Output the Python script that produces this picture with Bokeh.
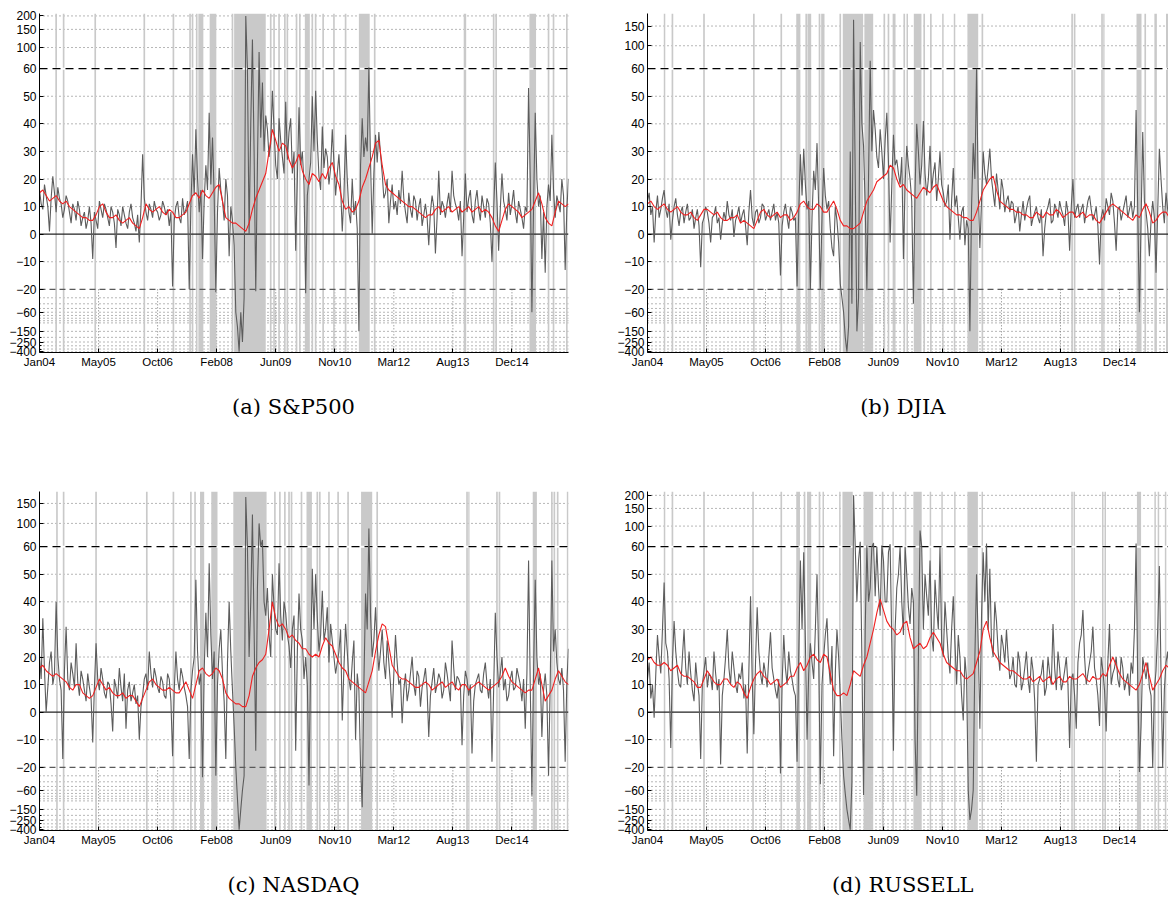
import numpy as np
from bokeh.plotting import figure
from bokeh.layouts import gridplot
from bokeh.models import FixedTicker, Span
from bokeh.embed import file_html
from bokeh.resources import INLINE

# ---------------- data (weekly index from Jan 2004) ----------------
X_TICK_WEEKS = [0, 71, 142, 213, 284, 355, 426, 497, 568]
X_TICK_LABELS = ["Jan04", "May05", "Oct06", "Feb08", "Jun09", "Nov10", "Mar12", "Aug13", "Dec14"]
GREY_STEP = 4   # grey readings at weeks 0,4,8,... ; *_MID readings at weeks 2,6,10,...
RED_STEP = 8    # red readings at weeks 0,8,16,... ; *_MID readings at weeks 4,12,20,...

Y_LABELS_TALL = [-400, -250, -150, -60, -20, -10, 0, 10, 20, 30, 40, 50, 60, 100, 150, 200]
Y_LABELS_SHORT = [-400, -250, -150, -60, -20, -10, 0, 10, 20, 30, 40, 50, 60, 100, 150]
Y_MINOR = [-200, -300, -350]
GRID_UPPER = [-10, 10, 20, 30, 40, 50, 100, 150, 200]
GRID_LOWER = [-30, -40, -50, -60, -70, -80, -90, -100, -150, -200, -250, -300, -350, -400]

# ---- (a) S&P500 ----
SP_GREY = [16, 9, 14, 1, 21, 8, 13, 6, 14, 8,
           11, 5, 9, 6, 2, 10, -9, 5, 12, 6,
           9, 3, 8, -5, 7, 10, 4, 8, 6, 1,
           -3, 29, 8, 11, 6, 9, 5, 12, 7, 3,
           -19, 10, 6, 13, 9, -20, 29, 38, 8, -9,
           25, 44, 35, -23, 24, 12, 20, -8, 5, -60,
           -400, -250, 200, 0, 120, -22, 90, 55, 43, 28,
           52, 25, 42, 28, 48, 37, 22, -6, 46, 30,
           -24, 20, 50, 52, 21, 39, 31, 18, 38, 14,
           29, 1, 36, 8, 20, 12, -150, 42, 35, 62,
           0, 36, 37, 22, 15, 4, 18, 12, 16, 23,
           8, 15, 6, 12, 10, 3, 11, -4, 14, -7,
           23, 12, 6, 15, 23, 11, 5, -8, 22, 13,
           7, 12, 9, 14, 6, 11, -10, 26, -6, 22,
           9, 15, 11, 8, 12, 6, 10, 53, -60, 44,
           10, -9, -14, 18, 36, 6, 11, 20, -13, 20]
SP_GREY_MID = [11, 18, 10, 13, 15, 17, 11, 9, 12, 4,
               9, 12, 3, 8, 5, 4, 8, 2, 9, 11,
               6, 10, 4, 9, 3, 7, 2, 11, 4, 7,
               10, 13, 5, 9, 12, 8, 7, 10, 9, 8,
               5, 12, 4, 7, 12, 10, 14, 20, 16, 12,
               16, 18, 14, 8, 16, 5, 14, 10, -4, -120,
               -60, -30, 60, 40, 30, 25, 35, 30, 38, 33,
               38, 20, 34, 22, 27, 42, 30, 20, 25, 18,
               14, 26, 30, 34, 16, 24, 28, 24, 26, 22,
               17, 14, 20, 4, 7, 2, 25, 28, 30, 26,
               22, 26, 29, 13, 20, 12, 9, 7, 11, 13,
               4, 9, 14, 5, 13, 7, 6, 8, 10, 6,
               7, 10, 11, 8, 14, 9, 12, 6, 8, 16,
               4, 16, 5, 10, 13, 4, 8, 12, 9, 12,
               5, 7, 16, 4, 9, 2, 8, 20, 10, 20,
               14, 8, 10, 12, 16, 14, 8, 14, 9]
SP_RED = [15, 14, 13, 12, 12, 9, 7, 6, 5, 10,
          8, 6, 5, 5, 4, 2, 11, 8, 10, 7,
          8, 6, 8, 14, 13, 14, 15, 18, 6, 4,
          3, 1, 9, 16, 22, 38, 30, 32, 24, 29,
          20, 22, 19, 20, 26, 18, 9, 8, 12, 20,
          28, 34, 18, 15, 13, 11, 10, 8, 6, 7,
          10, 9, 8, 10, 9, 8, 10, 9, 6, 1,
          9, 10, 8, 7, 9, 15, 6, 3, 12, 10]
SP_RED_MID = [16, 12, 14, 11, 10, 8, 6, 5, 7, 11,
              6, 7, 4, 6, 3, 6, 9, 9, 8, 9,
              6, 7, 11, 15, 16, 13, 17, 12, 5, 4,
              2, 4, 13, 19, 30, 34, 33, 27, 26, 23,
              18, 21, 22, 24, 21, 12, 10, 9, 17, 24,
              33, 25, 16, 14, 12, 10, 9, 7, 7, 9,
              8, 10, 9, 8, 10, 9, 8, 8, 3, 5,
              11, 9, 6, 8, 12, 11, 4, 8, 11, 11]
SP_BANDS = [(19, 21), (28, 30), (66, 68), (125, 127), (160, 162), (180, 182), (183, 185),
            (188, 190), (191, 197), (204.6, 212.6), (231, 233), (234, 272), (277, 279),
            (281, 283), (287, 289), (294, 296), (297, 299), (308, 310), (312, 314),
            (319, 325), (327, 329), (331, 333), (340, 342), (353, 355), (367, 369),
            (384, 397), (402, 404), (510, 513), (545, 547), (548, 550), (589, 597),
            (611, 613), (617, 619), (633, 635)]

# ---- (b) DJIA ----
DJ_GREY = [12, 7, -3, 14, 9, 16, 6, -2, 10, 7,
           8, 4, 11, 6, 2, 9, -12, 6, 8, -3,
           7, 4, -2, 8, 12, 5, -1, 7, 4, 9,
           -4, 16, 3, 9, 6, 10, 7, 5, 11, 8,
           -15, 8, 6, 10, 5, -19, 29, 31, 9, -20,
           23, 33, -20, 24, 9, 2, -8, 5, -18, -60,
           -400, 30, 170, -150, 108, 32, -21, 72, 45, 28,
           38, 20, 44, -3, 36, 27, 18, -9, 32, 20,
           -40, 40, 18, 41, 14, 32, 22, 12, 30, 15,
           12, -2, 24, 14, -2, 10, 5, -150, 33, 60,
           -5, 30, 18, 31, 15, 22, 9, 16, 12, 8,
           11, 7, 1, 12, 9, 14, 6, 10, 4, -8,
           8, 13, 5, 9, 12, 7, 12, -6, 20, 9,
           6, 11, 8, 14, 5, 10, -11, 9, 13, 7,
           12, -6, 10, 8, 14, 9, 6, 45, -60, 37,
           8, -8, 12, -14, 31, 10, 15, 6, 12, 9]
DJ_GREY_MID = [15, 10, 8, 6, 13, 9, 11, 5, 13, 3,
               10, 8, 5, 9, 6, 3, 4, 10, 4, 6,
               10, 6, 4, 5, 7, 9, 5, 10, 7, 3,
               8, 6, 8, 4, 11, 5, 9, 8, 5, 4,
               3, 11, 2, 8, 6, 8, 14, 18, 12, 6,
               16, 10, 6, 14, 12, -5, 10, -3, -30, -200,
               -120, -40, 20, -30, 40, 10, 20, 30, 38, 24,
               30, 34, 26, 18, 25, 22, 28, 18, 25, 12,
               16, 30, 25, 22, 20, 16, 26, 20, 18, 10,
               18, 12, 10, 6, 8, -4, 2, 10, 20, 16,
               12, 22, 24, 20, 10, 16, 20, 8, 14, 12,
               4, 10, 7, 5, 12, 3, 8, 6, 9, 2,
               10, 4, 11, 6, 9, 3, 8, 10, 6, 11,
               9, 4, 12, 9, 7, 3, 6, 5, 10, 15,
               4, 9, 5, 11, 6, 12, 10, 8, 5, 12,
               2, 5, 6, 8, 20, 4, 9, 10, 6]
DJ_RED = [11, 10, 10, 9, 9, 8, 7, 6, 7, 9,
          7, 6, 5, 6, 4, 4, 2, 8, 7, 7,
          6, 7, 6, 11, 10, 9, 10, 8, 12, 5,
          3, 2, 4, 12, 16, 20, 22, 24, 17, 16,
          14, 15, 16, 17, 15, 10, 8, 7, 6, 5,
          12, 18, 21, 12, 10, 9, 8, 7, 6, 7,
          8, 7, 8, 7, 8, 7, 6, 7, 4, 8,
          11, 9, 7, 5, 6, 11, 4, 7, 8, 7]
DJ_RED_MID = [12, 9, 11, 8, 10, 7, 8, 5, 9, 8,
              8, 5, 6, 7, 5, 3, 5, 9, 6, 8,
              7, 5, 8, 12, 9, 11, 8, 10, 9, 3,
              2, 3, 8, 14, 19, 21, 25, 20, 18, 15,
              13, 17, 15, 18, 12, 9, 7, 6, 5, 8,
              16, 20, 16, 11, 9, 8, 7, 6, 8, 6,
              7, 9, 6, 8, 6, 8, 7, 5, 6, 10,
              10, 8, 6, 7, 9, 8, 5, 8, 6, 8]
DJ_BANDS = [(19.6, 21.4), (29, 31), (67, 69), (127, 129), (160, 162), (179, 184), (190, 192),
            (192.5, 197), (206, 208), (209, 213), (231, 233), (235, 259.5), (261, 271.6),
            (284, 286), (289, 291), (295, 298.5), (308, 310), (311.7, 313.5), (320.5, 329.7),
            (332, 334), (340, 342), (354.6, 356.4), (368.6, 370.4), (385, 398), (402, 404),
            (510, 512), (513, 515), (546, 548), (548.5, 550), (588.5, 594.5), (598, 600),
            (610, 613), (624, 627)]

# ---- (c) NASDAQ ----
NQ_GREY = [20, 34, 0, 18, 10, 40, 12, -17, 31, 8,
           14, 25, 6, 12, 4, 9, -11, 25, 8, 12,
           5, 10, -7, 9, 16, 4, -6, 11, 7, 3,
           -10, 6, 14, 22, 9, 13, 7, 11, 5, 12,
           -16, 22, 8, 13, 6, -17, 15, 48, 10, -32,
           36, 54, 12, -30, 23, 14, -17, 40, 8, -20,
           -400, -60, 170, 20, 120, -14, 100, 70, 35, 28,
           50, 30, 54, 26, 36, 24, 30, -14, 43, 26,
           20, -48, 52, 50, 22, 44, 30, 18, 26, 14,
           22, -3, 32, 12, 18, -10, 8, -136, 43, 90,
           20, 38, 15, 30, 12, 18, -2, 28, 10, -4,
           14, 8, 20, 6, 13, 9, 16, -9, 11, 7,
           14, 5, 18, 9, 26, 8, 12, -12, 15, 6,
           -15, 10, 14, 7, 18, 5, -18, 36, 9, 20,
           12, 6, 15, 9, 13, 4, -6, 55, -78, 48,
           10, -9, 14, -30, 55, 30, 12, 16, -18, 23]
NQ_GREY_MID = [12, 15, 9, 22, 14, 20, 8, 15, 12, 18,
               9, 11, 15, 8, 14, 5, 9, 12, 16, 7,
               11, 3, 12, 5, 9, 14, 8, 4, 10, 6,
               2, 12, 8, 14, 16, 9, 13, 6, 14, 4,
               8, 12, 16, 9, 2, 8, 20, 22, 14, 15,
               20, 28, 22, 10, 30, 4, 18, 22, -5, -90,
               -150, -30, 60, 40, 30, 45, 60, 40, 45, 20,
               38, 28, 35, 40, 28, 16, 35, 22, 30, 12,
               10, 18, 30, 34, 28, 26, 38, 32, 20, 18,
               30, 16, 22, 8, 26, 14, -20, 10, 30, 35,
               26, 24, 22, 18, 26, 10, 14, 18, 12, 8,
               4, 14, 10, 15, 2, 12, 8, 6, 16, 10,
               12, 8, 14, 4, 16, 13, 10, 6, 12, 10,
               4, 12, 8, 14, 10, 12, 8, 20, 14, 8,
               4, 12, 8, 16, 10, 12, 14, 10, 15, 20,
               14, 8, 6, 10, 22, 18, 10, 8, 11]
NQ_RED = [16, 15, 13, 13, 11, 8, 10, 6, 6, 12,
          8, 7, 6, 5, 6, 2, 8, 12, 9, 8,
          8, 7, 11, 5, 15, 14, 14, 15, 7, 4,
          3, 2, 13, 18, 21, 40, 31, 30, 28, 25,
          23, 20, 20, 27, 24, 18, 15, 11, 9, 7,
          15, 28, 31, 17, 13, 12, 10, 9, 11, 8,
          10, 9, 11, 8, 10, 9, 11, 9, 9, 11,
          16, 11, 9, 7, 8, 16, 4, 8, 15, 11]
NQ_RED_MID = [17, 14, 14, 12, 9, 10, 7, 5, 9, 10,
              9, 6, 7, 6, 4, 5, 11, 10, 8, 9,
              7, 9, 8, 10, 16, 13, 16, 12, 5, 3,
              2, 6, 16, 19, 30, 34, 32, 27, 26, 23,
              21, 21, 24, 25, 21, 16, 12, 10, 8, 11,
              22, 32, 24, 15, 12, 11, 9, 10, 10, 9,
              11, 10, 9, 10, 8, 10, 10, 8, 10, 13,
              13, 10, 8, 8, 12, 10, 6, 12, 13, 10]
NQ_BANDS = [(20, 22), (28, 30), (67, 69), (128, 130), (160, 162), (181, 183), (186, 188),
            (193, 198), (206.5, 214), (233, 273), (282, 284), (288, 290), (294, 296),
            (299, 301), (302, 304), (314, 316), (321, 327.5), (333, 335), (336, 338),
            (347, 349), (358, 360), (370, 372), (386.6, 400), (405, 407), (513, 515),
            (515.5, 517), (549, 551), (552, 554), (593, 598), (615, 617), (618, 620),
            (622, 624), (634, 636)]

# ---- (d) RUSSELL ----
RU_GREY = [12, 5, -2, 28, 14, 47, 22, -13, 33, 15,
           9, 30, 10, 14, 4, 11, -17, 15, 9, 13,
           22, 8, -19, 12, 30, 10, 16, 7, 12, 5,
           -15, 42, -8, 38, 14, 18, 9, 29, 12, 5,
           -27, 28, 10, 15, 8, -18, 55, 58, -10, 25,
           12, 50, -45, 20, 34, 10, -16, 30, 6, -30,
           -150, -400, 200, 40, 68, -75, 62, 45, 66, 60,
           35, 55, 40, 64, -14, 45, 60, 28, 50, 32,
           40, -78, 90, 30, 42, 55, 22, 38, 60, 20,
           30, 14, 42, 10, 20, -3, 12, -250, -60, 50,
           -6, 58, 65, 52, 20, 33, 15, 24, 30, 12,
           20, 9, 18, 11, 22, 7, 15, -18, 12, 19,
           9, 14, 32, 8, 16, 11, 20, -13, 14, -6,
           25, 37, 10, 18, 31, 12, -5, 15, -7, 32,
           14, 20, 9, 16, 11, 6, 14, 65, -25, 20,
           12, 9, -20, 15, 53, -20, 18, 10, 14, 11]
RU_GREY_MID = [18, 10, 14, 20, 30, 25, 12, 18, 22, 10,
               20, 16, 22, 8, 18, 6, 10, 20, 14, 8,
               14, 12, 6, 20, 16, 22, 10, 14, 18, 10,
               15, 12, 18, 22, 10, 14, 20, 16, 8, 12,
               10, 16, 22, 12, 6, 20, 30, 26, 14, 18,
               30, 20, 10, 28, 18, 24, 14, 20, -10, -70,
               -250, -40, 60, 55, 20, 30, 40, 60, 42, 45,
               62, 40, 58, 25, 30, 50, 40, 60, 38, 45,
               -10, 20, 60, 50, 35, 28, 48, 30, 25, 40,
               20, 30, 25, 28, 6, 20, -60, -150, 20, 25,
               35, 40, 30, 25, 40, 22, 28, 18, 20, 14,
               10, 22, 8, 16, 12, 20, 4, 10, 14, 6,
               20, 10, 16, 22, 8, 15, 10, 12, 6, 18,
               28, 20, 14, 22, 16, 6, 20, 8, 18, 10,
               16, 12, 20, 8, 14, 18, 30, 10, -5, 16,
               18, 6, 8, 30, 14, 8, 22, 16, 9]
RU_RED = [19, 18, 17, 17, 16, 14, 13, 11, 9, 15,
          11, 10, 12, 9, 10, 5, 12, 15, 12, 11,
          9, 11, 13, 18, 17, 21, 18, 20, 8, 6,
          6, 15, 13, 20, 30, 41, 33, 30, 29, 33,
          23, 25, 24, 29, 25, 18, 16, 15, 12, 14,
          22, 33, 22, 18, 16, 15, 13, 12, 11, 13,
          12, 10, 13, 11, 12, 13, 12, 13, 12, 13,
          20, 14, 11, 9, 10, 18, 8, 12, 17, 14]
RU_RED_MID = [20, 17, 18, 15, 17, 13, 12, 9, 12, 13,
              10, 12, 10, 11, 7, 9, 14, 13, 10, 12,
              10, 13, 16, 15, 20, 19, 21, 14, 6, 7,
              10, 14, 17, 25, 36, 37, 31, 28, 32, 27,
              24, 23, 27, 27, 21, 17, 15, 13, 13, 18,
              30, 27, 20, 17, 15, 14, 12, 13, 12, 11,
              13, 12, 11, 13, 12, 14, 11, 12, 14, 17,
              17, 12, 10, 8, 14, 13, 10, 15, 16, 13]
RU_BANDS = [(19.6, 21.4), (29, 31), (67, 69), (126, 128), (160, 162), (179, 183.5), (188, 190),
            (192, 197), (206, 208), (210.6, 212.4), (230.6, 232.4), (234.6, 247), (260, 271.6),
            (282, 284), (294.7, 296.5), (309.6, 311.4), (320, 330), (339.6, 341.4),
            (353.6, 355.4), (369, 370.8), (385, 397.6), (402, 403.8), (510, 511.8),
            (512.7, 514.5), (547, 548.8), (550, 551.8), (589, 594), (610, 611.8),
            (614, 615.8), (622.6, 624.4)]

# ---------------- broken (piecewise) y scale ----------------
B_NEG = 7.56
Y_BOT = -42.9
Y_TOP = 80.0


def tr(v, A):
    v = np.asarray(v, dtype=float)
    out = v.copy()
    hi = v > 60
    lo = v < -20
    out[hi] = 60 + A * np.log((v[hi] + 20) / 80)
    out[lo] = -20 - B_NEG * np.log(-v[lo] / 20)
    return np.round(out, 6)


def merge(main, mid, step):
    xm = np.arange(len(main)) * step
    xh = np.arange(len(mid)) * step + step / 2
    x = np.concatenate([xm, xh])
    y = np.concatenate([np.asarray(main, float), np.asarray(mid, float)])
    order = np.argsort(x, kind="stable")
    return x[order], y[order]


def lab(v):
    return str(v).replace("-", "\u2212")


def make_panel(caption, grey, grey_mid, red, red_mid, bands, A, ylabs,
               width, height, left, right, top, bottom, xend):
    p = figure(width=width, height=height, x_range=(0, xend), y_range=(Y_BOT, Y_TOP),
               output_backend="svg", toolbar_location=None,
               min_border_left=left, min_border_right=right, min_border_top=top,
               min_border_bottom=bottom)
    p.outline_line_color = None
    p.grid.visible = False

    # dotted grid
    for v in GRID_UPPER + GRID_LOWER:
        y = float(tr([v], A)[0])
        if Y_BOT < y < Y_TOP:
            p.add_layout(Span(location=y, dimension="width", line_color="#6e6e6e",
                              line_width=1, line_dash="1 3", level="underlay"))
    y60 = float(tr([60], A)[0])
    ym20 = float(tr([-20], A)[0])
    xt = X_TICK_WEEKS[1:]
    p.segment(x0=xt, x1=xt, y0=[ym20] * len(xt), y1=[Y_BOT] * len(xt),
              line_color="#7a7a7a", line_width=1, line_dash="1 2")

    # regime bands
    p.quad(left=[b[0] for b in bands], right=[b[1] for b in bands],
           bottom=Y_BOT, top=Y_TOP, fill_color="#c9c9c9", line_color=None)

    # reference lines
    xe = [0, xend]
    p.line(xe, [y60, y60], line_color="white", line_width=2)
    p.line(xe, [y60, y60], line_color="black", line_width=1.2, line_dash="8 5")
    p.line(xe, [0, 0], line_color="#222222", line_width=1.2)
    p.line(xe, [ym20, ym20], line_color="#5a5a5a", line_width=1.2, line_dash="6 4")

    # series
    gx, gy = merge(grey, grey_mid, GREY_STEP)
    p.line(gx, tr(gy, A), line_color="#5c5c5c", line_width=1.1)
    rx, ry = merge(red, red_mid, RED_STEP)
    p.line(rx, tr(ry, A), line_color="#f02020", line_width=1.1)

    # axes
    yt = tr(ylabs, A)
    p.yaxis.ticker = FixedTicker(ticks=[float(t) for t in yt],
                                 minor_ticks=[float(t) for t in tr(Y_MINOR, A)])
    p.yaxis.major_label_overrides = {float(t): lab(v) for t, v in zip(yt, ylabs)}
    p.xaxis.ticker = FixedTicker(ticks=X_TICK_WEEKS)
    p.xaxis.major_label_overrides = {w: l for w, l in zip(X_TICK_WEEKS, X_TICK_LABELS)}
    for ax in (p.xaxis[0], p.yaxis[0]):
        ax.axis_line_color = "black"
        ax.axis_line_width = 1
        ax.major_tick_in = 4
        ax.major_tick_out = 0
        ax.minor_tick_in = 2
        ax.minor_tick_out = 0
        ax.major_tick_line_color = "black"
        ax.minor_tick_line_color = "black"
        ax.major_label_text_font = "Liberation Sans"
        ax.major_label_text_color = "black"
        ax.major_label_standoff = 3
    p.yaxis.major_label_text_font_size = "12px"
    p.xaxis.major_label_text_font_size = "11.5px"
    p.xaxis.axis_label = caption
    p.xaxis.axis_label_text_font = "DejaVu Serif"
    p.xaxis.axis_label_text_font_style = "normal"
    p.xaxis.axis_label_text_font_size = "21px"
    p.xaxis.axis_label_text_color = "black"
    p.xaxis.axis_label_standoff = 24
    return p


pa = make_panel("(a) S&P500\u2003", SP_GREY, SP_GREY_MID, SP_RED, SP_RED_MID, SP_BANDS,
                18.9, Y_LABELS_TALL, 600, 486, 39, 32, 13, 134, 636)
pb = make_panel("(b) DJIA\u2002", DJ_GREY, DJ_GREY_MID, DJ_RED, DJ_RED_MID, DJ_BANDS,
                20.5, Y_LABELS_SHORT, 568, 486, 47, 0, 13, 134, 627)
pc = make_panel("(c) NASDAQ\u2003", NQ_GREY, NQ_GREY_MID, NQ_RED, NQ_RED_MID, NQ_BANDS,
                20.8, Y_LABELS_SHORT, 600, 425, 39, 32, 5, 81, 636)
pd = make_panel("(d) RUSSELL\u2002", RU_GREY, RU_GREY_MID, RU_RED, RU_RED_MID, RU_BANDS,
                18.4, Y_LABELS_TALL, 568, 425, 47, 0, 5, 81, 627)

grid = gridplot([[pa, pb], [pc, pd]], toolbar_location=None)
open("out.html", "w").write(file_html(grid, INLINE))
